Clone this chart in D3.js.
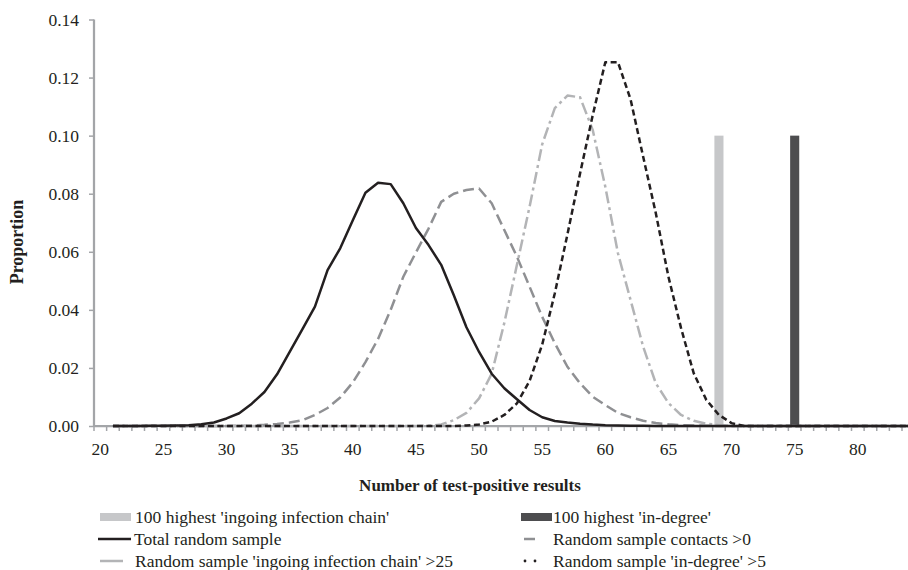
<!DOCTYPE html>
<html>
<head>
<meta charset="utf-8">
<script src="https://cdn.jsdelivr.net/npm/d3@7/dist/d3.min.js"></script>
<style>
body { margin: 0; background: #fff; }
svg { display: block; font-family: 'Liberation Serif', 'Times New Roman', serif; }
</style>
</head>
<body>
<svg id="chart" width="908" height="570"></svg>
<script>
// Categories on the x axis (number of test-positive results).
var categories = d3.range(20, 85);
var tickLabels = [20, 25, 30, 35, 40, 45, 50, 55, 60, 65, 70, 75, 80];
var yTicks = [0, 0.02, 0.04, 0.06, 0.08, 0.10, 0.12, 0.14];

// Line series, values for categories 21..84.
var lineCategories = d3.range(21, 85);
var totalRandom = [
    0, 0, 0, 0.0001, 0.0001, 0.0002, 0.0003, 0.0006, 0.0012, 0.0026,
    0.0044, 0.0077, 0.0117, 0.0178, 0.0255, 0.0333, 0.0411, 0.0537, 0.0612, 0.0709,
    0.0803, 0.0838, 0.0833, 0.0767, 0.0682, 0.0623, 0.0555, 0.0450, 0.0340, 0.0255,
    0.0180, 0.0130, 0.0092, 0.0055, 0.0030, 0.0017, 0.0012, 0.0008, 0.0005, 0.0003,
    0.0002, 0.0001, 0.0001, 0, 0, 0, 0, 0, 0, 0,
    0, 0, 0, 0, 0, 0, 0, 0, 0, 0,
    0, 0, 0, 0
];
var contactsOver0 = [
    0, 0, 0, 0, 0, 0, 0, 0, 0, 0,
    0.0001, 0.0002, 0.0004, 0.0007, 0.0012, 0.0020, 0.0038, 0.0062, 0.0098, 0.0150,
    0.0220, 0.0300, 0.0400, 0.0514, 0.0598, 0.0680, 0.0772, 0.0800, 0.0813, 0.0818,
    0.0767, 0.0675, 0.0583, 0.0480, 0.0376, 0.0285, 0.0204, 0.0147, 0.0101, 0.0072,
    0.0045, 0.0030, 0.0018, 0.0010, 0.0006, 0.0003, 0.0002, 0.0001, 0, 0,
    0, 0, 0, 0, 0, 0, 0, 0, 0, 0,
    0, 0, 0, 0
];
var ingoingOver25 = [
    0, 0, 0, 0, 0, 0, 0, 0, 0, 0,
    0, 0, 0, 0, 0, 0, 0, 0, 0, 0,
    0, 0, 0, 0, 0, 0.0001, 0.0005, 0.0020, 0.0045, 0.0095,
    0.0180, 0.0355, 0.0555, 0.0755, 0.0970, 0.1095, 0.1138, 0.1132, 0.1020, 0.0824,
    0.0595, 0.0434, 0.0273, 0.0147, 0.0079, 0.0038, 0.0018, 0.0008, 0.0003, 0,
    0, 0, 0, 0, 0, 0, 0, 0, 0, 0,
    0, 0, 0, 0
];
var inDegreeOver5 = [
    0, 0, 0, 0, 0, 0, 0, 0, 0, 0,
    0, 0, 0, 0, 0, 0, 0, 0, 0, 0,
    0, 0, 0, 0, 0, 0, 0, 0, 0.0002, 0.0005,
    0.0015, 0.0038, 0.0078, 0.0155, 0.0280, 0.0457, 0.0660, 0.0870, 0.1070, 0.1253,
    0.1253, 0.1125, 0.0927, 0.0733, 0.0514, 0.0337, 0.0182, 0.0090, 0.0038, 0.0010,
    0, 0, 0, 0, 0, 0, 0, 0, 0, 0,
    0, 0, 0, 0
];

// Bar series (100 highest).
var ingoingBarCategory = [69];
var ingoingBarValue = [0.10];
var inDegreeBarCategory = [75];
var inDegreeBarValue = [0.10];

var svg = d3.select('#chart');
var axisColor = '#a3a5a8';

var x = d3.scaleBand()
    .domain(categories)
    .range([94, 94 + categories.length * 12.625]);

var y = d3.scaleLinear()
    .domain([0, 0.14])
    .range([426, 19.5]);

function center(c) {
    return x(c) + x.bandwidth() / 2;
}

// Y axis.
var yAxis = svg.append('g')
    .attr('transform', 'translate(94,0)')
    .call(d3.axisLeft(y).tickValues(yTicks).tickFormat(d3.format('.2f')).tickSize(5).tickPadding(10));
yAxis.select('.domain').remove();
yAxis.selectAll('line').attr('stroke', axisColor).attr('stroke-width', 1.5);
yAxis.selectAll('text')
    .attr('font-family', 'Liberation Serif')
    .attr('font-size', 17.5)
    .attr('fill', '#231f20');
svg.append('line')
    .attr('x1', 94).attr('x2', 94)
    .attr('y1', y(0.14)).attr('y2', y(0))
    .attr('stroke', axisColor)
    .attr('stroke-width', 2.25);

// X axis: labels at category centres, tick marks between categories.
var xAxis = svg.append('g')
    .attr('transform', 'translate(0,426)')
    .call(d3.axisBottom(x).tickValues(tickLabels).tickSize(0).tickPadding(17));
xAxis.select('.domain').remove();
xAxis.selectAll('text')
    .attr('font-family', 'Liberation Serif')
    .attr('font-size', 17.5)
    .attr('fill', '#231f20');

svg.append('g').selectAll('line')
    .data(categories)
    .join('line')
    .attr('x1', function(d) { return x(d); })
    .attr('x2', function(d) { return x(d); })
    .attr('y1', 426).attr('y2', 431)
    .attr('stroke', axisColor)
    .attr('stroke-width', 1.5);

svg.append('line')
    .attr('x1', 94).attr('x2', 908)
    .attr('y1', y(0)).attr('y2', y(0))
    .attr('stroke', axisColor)
    .attr('stroke-width', 2.25);

// Bars.
var barWidth = x.bandwidth() * 0.72;
function drawBars(cats, vals, color) {
    svg.append('g').selectAll('rect')
        .data(d3.zip(cats, vals))
        .join('rect')
        .attr('x', function(d) { return center(d[0]) - barWidth / 2; })
        .attr('y', function(d) { return y(d[1]); })
        .attr('width', barWidth)
        .attr('height', function(d) { return y(0) - y(d[1]); })
        .attr('fill', color);
}
drawBars(ingoingBarCategory, ingoingBarValue, '#c6c7c9');
drawBars(inDegreeBarCategory, inDegreeBarValue, '#4d4d4f');

// Lines.
var line = d3.line()
    .x(function(d) { return center(d[0]); })
    .y(function(d) { return y(d[1]); });

var lineStyles = [
    { values: contactsOver0, color: '#8f9093', dash: '11,5' },
    { values: ingoingOver25, color: '#b3b4b6', dash: '12,4,3,4' },
    { values: totalRandom, color: '#231f20', dash: null },
    { values: inDegreeOver5, color: '#231f20', dash: '6,3.5' }
];

lineStyles.forEach(function(s) {
    svg.append('path')
        .datum(d3.zip(lineCategories, s.values))
        .attr('d', line)
        .attr('fill', 'none')
        .attr('stroke', s.color)
        .attr('stroke-width', 2.5)
        .attr('stroke-linejoin', 'round')
        .attr('stroke-dasharray', s.dash);
});

// Axis titles.
svg.append('text')
    .attr('x', 470)
    .attr('y', 491)
    .attr('text-anchor', 'middle')
    .attr('font-weight', 'bold')
    .attr('font-size', 17)
    .attr('fill', '#231f20')
    .text('Number of test-positive results');

svg.append('text')
    .attr('transform', 'translate(23,242) rotate(-90)')
    .attr('text-anchor', 'middle')
    .attr('font-weight', 'bold')
    .attr('font-size', 18)
    .attr('fill', '#231f20')
    .text('Proportion');

// Legend.
var legend = svg.append('g');
function legendText(tx, ty, label) {
    legend.append('text')
        .attr('x', tx).attr('y', ty)
        .attr('font-size', 17.5)
        .attr('fill', '#231f20')
        .text(label);
}

legend.append('rect').attr('x', 100).attr('y', 513).attr('width', 31).attr('height', 8).attr('fill', '#c6c7c9');
legendText(135, 523, "100 highest 'ingoing infection chain'");

legend.append('line').attr('x1', 98).attr('x2', 131).attr('y1', 539).attr('y2', 539)
    .attr('stroke', '#231f20').attr('stroke-width', 2.5);
legendText(134, 545, 'Total random sample');

legend.append('line').attr('x1', 100).attr('x2', 123).attr('y1', 561).attr('y2', 561)
    .attr('stroke', '#b3b4b6').attr('stroke-width', 2.5);
legendText(135, 567, "Random sample 'ingoing infection chain' >25");

legend.append('rect').attr('x', 521).attr('y', 513).attr('width', 31).attr('height', 8).attr('fill', '#4d4d4f');
legendText(553, 523, "100 highest 'in-degree'");

legend.append('line').attr('x1', 524).attr('x2', 535).attr('y1', 539).attr('y2', 539)
    .attr('stroke', '#8f9093').attr('stroke-width', 2.5);
legendText(553, 545, 'Random sample contacts >0');

legend.selectAll('circle.dot')
    .data([525, 535])
    .join('circle')
    .attr('cx', function(d) { return d; })
    .attr('cy', 561)
    .attr('r', 1.4)
    .attr('fill', '#231f20');
legendText(553, 567, "Random sample 'in-degree' >5");
</script>
</body>
</html>
